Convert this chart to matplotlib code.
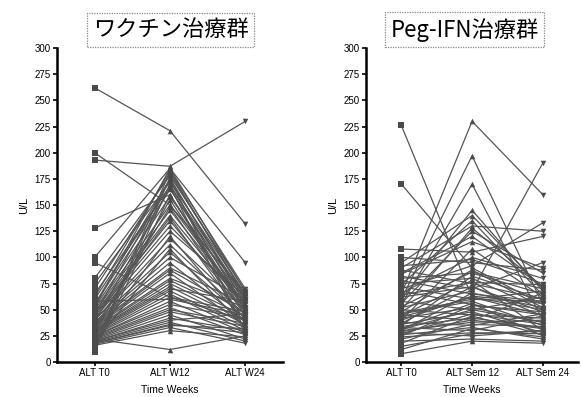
import matplotlib
matplotlib.use("Agg")
import matplotlib.pyplot as plt
import numpy as np

# vaccine group: ALT at T0, W12, W24 (one entry per patient)
vac_t0 = [262, 200, 193, 128, 100, 95, 80, 75, 65, 58, 55, 52, 50, 48, 46, 45,
          44, 42, 40, 40, 38, 37, 36, 35, 34, 33, 32, 31, 30, 30, 29, 28,
          27, 26, 25, 25, 24, 23, 22, 22, 21, 20, 20, 19, 18, 18, 17, 16,
          15, 14, 12, 10, 62, 70, 45, 38, 28, 33, 41, 52, 24, 19, 55, 60]
vac_w12 = [221, 150, 187, 160, 185, 62, 178, 172, 168, 60, 165, 158, 150, 145, 140, 135,
           130, 125, 118, 112, 105, 100, 95, 90, 88, 85, 80, 78, 75, 72, 70, 68,
           65, 62, 58, 55, 52, 50, 12, 48, 45, 42, 40, 38, 36, 35, 33, 30,
           182, 176, 170, 160, 183, 180, 174, 166, 155, 148, 138, 185, 120, 108, 175, 168]
vac_w24 = [132, 55, 230, 50, 95, 40, 68, 65, 62, 45, 60, 58, 66, 55, 52, 48,
           57, 63, 50, 45, 42, 60, 38, 55, 47, 35, 52, 44, 40, 36, 58, 33,
           30, 48, 28, 42, 26, 37, 25, 34, 22, 30, 46, 20, 28, 32, 18, 24,
           62, 55, 50, 45, 70, 64, 59, 53, 49, 44, 40, 67, 38, 33, 30, 27]
vac_ticks = ["ALT T0", "ALT W12", "ALT W24"]

# Peg-IFN group: ALT at T0, Sem 12, Sem 24
peg_t0 = [226, 170, 108, 100, 95, 90, 88, 85, 82, 80, 78, 75, 72, 70, 68, 65,
          62, 60, 58, 55, 52, 50, 48, 46, 45, 44, 42, 40, 38, 36, 35, 34,
          33, 32, 30, 30, 28, 27, 26, 25, 24, 22, 20, 18, 15, 12, 8, 56,
          64, 40, 43, 37, 31, 29, 53, 47, 66, 74, 84, 92, 60, 50]
peg_s12 = [62, 90, 105, 95, 140, 130, 75, 120, 70, 85, 65, 80, 60, 92, 55, 230,
           72, 197, 50, 170, 68, 45, 88, 58, 40, 78, 52, 63, 35, 48, 82, 42,
           30, 56, 38, 66, 25, 46, 33, 54, 28, 36, 22, 44, 27, 32, 20, 125,
           76, 108, 62, 72, 50, 40, 86, 60, 100, 135, 115, 98, 145, 128]
peg_s24 = [45, 55, 120, 88, 70, 125, 60, 72, 95, 65, 58, 50, 68, 133, 45, 160,
           48, 55, 62, 40, 190, 42, 52, 35, 66, 30, 38, 56, 46, 28, 60, 33,
           44, 25, 40, 52, 30, 36, 22, 48, 27, 34, 20, 26, 30, 24, 18, 85,
           74, 62, 50, 44, 38, 32, 70, 58, 80, 64, 90, 75, 68, 72]
peg_ticks = ["ALT T0", "ALT Sem 12", "ALT Sem 24"]

line_col = "#555555"
mark_col = "#4a4a4a"
markers = ["s", "^", "v"]

plt.rcParams["font.family"] = ["Liberation Sans", "DejaVu Sans"]

fig = plt.figure(figsize=(5.81, 3.97), dpi=100)
ax1 = fig.add_axes([0.098, 0.088, 0.389, 0.791])
ax2 = fig.add_axes([0.630, 0.088, 0.365, 0.791])


def draw_panel(ax, cols, ticks):
    data = np.array(cols)
    x = np.arange(data.shape[0])
    for j in range(data.shape[1]):
        ax.plot(x, data[:, j], color=line_col, lw=0.9, zorder=2)
    for i in range(data.shape[0]):
        ax.scatter(np.full(data.shape[1], x[i]), data[i], marker=markers[i], s=16,
                   color=mark_col, zorder=3, linewidths=0)
    ax.set_xlim(-0.5, 2.5)
    ax.set_ylim(0, 300)
    ax.set_yticks(np.arange(0, 301, 25))
    ax.set_xticks(x)
    ax.set_xticklabels(ticks)
    ax.tick_params(axis="both", direction="out", length=3, width=1.2, labelsize=7, pad=1.5)
    for side in ("top", "right"):
        ax.spines[side].set_visible(False)
    for side in ("left", "bottom"):
        ax.spines[side].set_linewidth(1.8)
    ax.set_ylabel("U/L", fontsize=8, labelpad=4)
    ax.set_xlabel("Time Weeks", fontsize=7.5, labelpad=5)


draw_panel(ax1, [vac_t0, vac_w12, vac_w24], vac_ticks)
draw_panel(ax2, [peg_t0, peg_s12, peg_s24], peg_ticks)

box = dict(boxstyle="square,pad=0.25", facecolor="white", edgecolor="#888888",
           linestyle=(0, (1, 1)), linewidth=0.9)
fig.text(0.294, 0.925, "ワクチン治療群", ha="center", va="center", fontsize=16,
         family=["Noto Sans CJK JP", "DejaVu Sans"], bbox=box)
fig.text(0.800, 0.925, "Peg-IFN治療群", ha="center", va="center", fontsize=16,
         family=["Noto Sans CJK JP", "DejaVu Sans"], bbox=box)

fig.savefig("out.png", dpi=100)
